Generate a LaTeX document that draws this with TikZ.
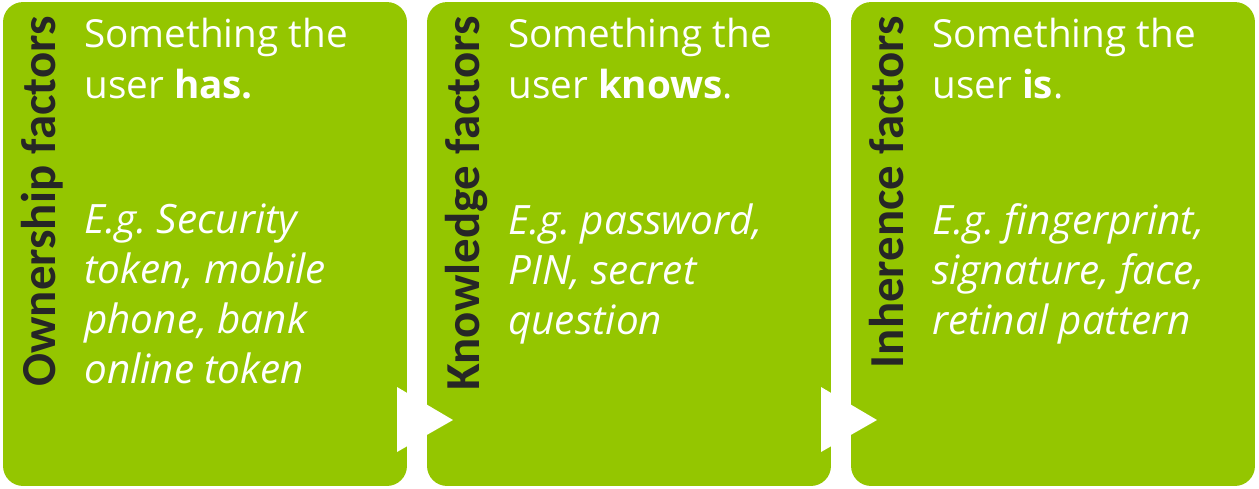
\documentclass[tikz,border=0pt]{standalone}
\usepackage{fontspec}
\setmainfont{Carlito}
\newfontfamily\bodyfont{Open Sans}
\usepackage{tikz}
\frenchspacing
\definecolor{leaf}{HTML}{94C600}
\definecolor{ink}{HTML}{262626}
\tikzset{
  every picture/.style={
    line join=round,
    line cap=round,
  },
  factbox/.style={fill=leaf, draw=none, rounded corners=0.4cm,
    minimum width=8.08cm, minimum height=9.68cm, inner sep=0pt},
  factlabel/.style={rotate=90, anchor=base east, inner sep=0pt, text=ink,
    font=\fontsize{27.8}{34}\selectfont\bfseries},
  headtext/.style={anchor=base west, inner sep=0pt, text=white, align=left,
    font=\bodyfont\fontsize{22}{29}\selectfont},
  extext/.style={headtext, font=\bodyfont\fontsize{23}{28.3}\selectfont\itshape},
  nextarrow/.style={fill=white, draw=none},
}

\begin{document}
\begin{tikzpicture}[x=0.02cm, y=-0.02cm]
\useasboundingbox (0,0) rectangle (1259,488);
% the three boxes
\node[factbox] (own) at (205,244) {};
\node[factbox] (know) at (629,244) {};
\node[factbox] (inh) at (1053,244) {};
% side labels
\node[factlabel] (ownlabel) at (55,16) {Ownership factors};
\node[factlabel] (knowlabel) at (479,16) {Knowledge factors};
\node[factlabel] (inhlabel) at (903,16) {Inherence factors};
% what the factor is (anchored on the last line)
\node[headtext] (ownhead) at (84,98) {Something the\\user \textbf{has.}};
\node[headtext] (knowhead) at (508,98) {Something the\\user \textbf{knows}.};
\node[headtext] (inhhead) at (932,98) {Something the\\user \textbf{is}.};
% examples
\node[extext] (ownex) at (84,383) {E.g. Security\\token, mobile\\phone, bank\\online token};
\node[extext] (knowex) at (508,334) {E.g. password,\\PIN, secret\\question};
\node[extext] (inhex) at (932,334) {E.g. fingerprint,\\signature, face,\\retinal pattern};
% arrows between the boxes
\fill[nextarrow] (397,387) -- (453,420) -- (397,452) -- cycle;
\fill[nextarrow] (821,387) -- (877,420) -- (821,452) -- cycle;
\end{tikzpicture}
\end{document}
